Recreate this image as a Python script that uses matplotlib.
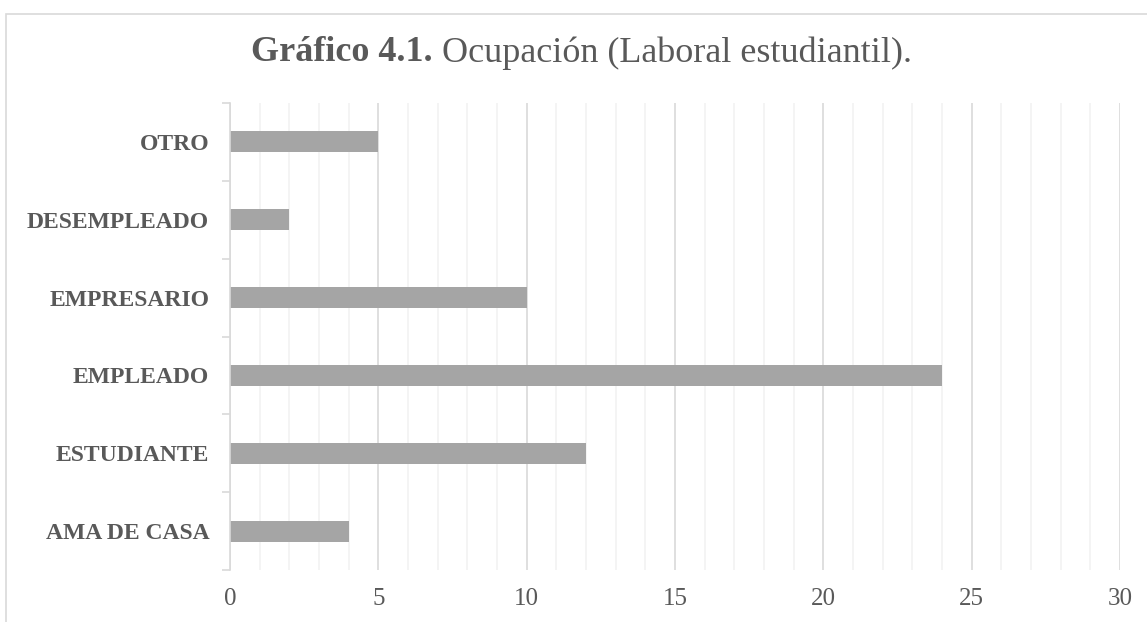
import matplotlib.pyplot as plt
from matplotlib.patches import Rectangle
import numpy as np

plt.rcParams['font.family'] = ['Liberation Serif', 'DejaVu Serif']

categorias = ['AMA DE CASA', 'ESTUDIANTE', 'EMPLEADO', 'EMPRESARIO', 'DESEMPLEADO', 'OTRO']
valores = [4, 12, 24, 10, 2, 5]
xticks = [0, 5, 10, 15, 20, 25, 30]

gris_texto = '#595959'

fig = plt.figure(figsize=(11.47, 6.22), dpi=100)
ax = fig.add_axes([0.2005, 0.0836, 0.776, 0.7508])

# marco del grafico
fig.patches.append(Rectangle((6/1147, -0.1), 1.2, 1 - 14/622 + 0.1, transform=fig.transFigure,
                             fill=False, edgecolor='#D9D9D9', linewidth=1.2))

y = np.arange(len(categorias))
ax.barh(y, valores, height=0.27, color='#A5A5A5', zorder=3)

ax.set_xlim(0, 30)
ax.set_ylim(-0.5, len(categorias) - 0.5)
ax.set_xticks(xticks)
ax.set_xticks(np.arange(0, 31, 1), minor=True)
ax.set_yticks(y)
ax.set_yticklabels(categorias, fontsize=17, fontweight='bold', color=gris_texto)
ax.set_yticks(np.arange(-0.5, len(categorias), 1), minor=True)

ax.grid(axis='x', which='minor', color='#F2F2F2', linewidth=1.2, zorder=0)
ax.grid(axis='x', which='major', color='#D9D9D9', linewidth=1.2, zorder=1)

ax.tick_params(axis='x', which='both', length=0, labelsize=18, labelcolor=gris_texto, pad=13)
ax.tick_params(axis='y', which='major', length=0, pad=15)
ax.tick_params(axis='y', which='minor', length=6, color='#D9D9D9', width=1.2)

for s in ['top', 'right', 'bottom']:
    ax.spines[s].set_visible(False)
ax.spines['left'].set_color('#D9D9D9')
ax.spines['left'].set_linewidth(1.2)
ax.spines['left'].set_zorder(4)

# titulo: parte en negrita y parte normal, centrado en conjunto
t1 = fig.text(0.0, 0.915, 'Gráfico 4.1.', fontsize=26, fontweight='bold', color=gris_texto, va='center')
t2 = fig.text(0.0, 0.915, ' Ocupación (Laboral estudiantil).', fontsize=26, color=gris_texto, va='center')
fig.canvas.draw()
r = fig.canvas.get_renderer()
w1 = t1.get_window_extent(r).width / fig.bbox.width
w2 = t2.get_window_extent(r).width / fig.bbox.width
x0 = 0.5072 - (w1 + w2) / 2
t1.set_x(x0)
t2.set_x(x0 + w1)

plt.savefig('out.png', dpi=100)
